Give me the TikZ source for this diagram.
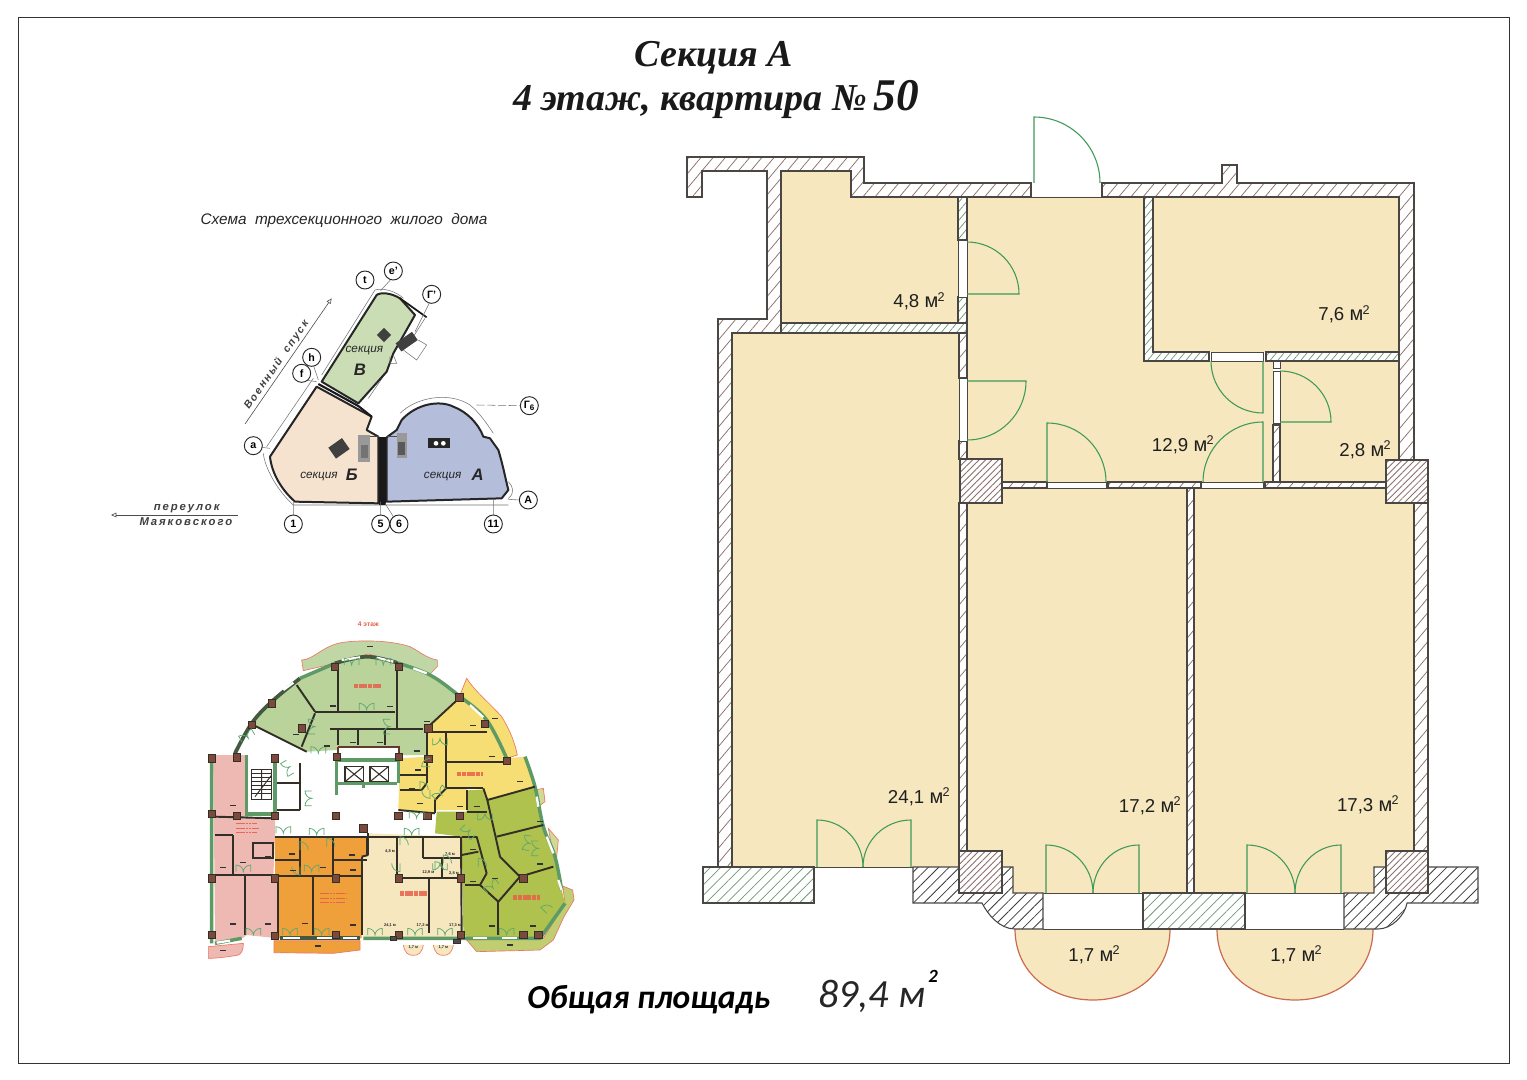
\documentclass[tikz,border=0pt]{standalone}
\usepackage{fontspec}
\setmainfont{Liberation Sans}
\newfontfamily\ttlfam{Liberation Serif}
\newfontfamily\calfam{Carlito}
\usetikzlibrary{patterns.meta,arrows.meta}
\definecolor{floorc}{HTML}{F6E7BF}
\definecolor{wline}{HTML}{4A4644}
\definecolor{hbrown}{HTML}{8B6F68}
\definecolor{hgreen}{HTML}{6E9A72}
\definecolor{hblack}{HTML}{3C3C3C}
\definecolor{doorc}{HTML}{3F9A58}
\definecolor{balc}{HTML}{CC6A50}
\definecolor{colb}{HTML}{7B4A3C}
\definecolor{fpwall}{HTML}{332E26}
\definecolor{fpgreen}{HTML}{5E9A66}
\definecolor{fpdome}{HTML}{B9D39B}
\definecolor{fpyel}{HTML}{F7DE74}
\definecolor{fpoli}{HTML}{B0C24E}
\definecolor{fpcream}{HTML}{F6E7BF}
\definecolor{fporg}{HTML}{F0A03A}
\definecolor{fppink}{HTML}{EEB9B2}
\definecolor{fpred}{HTML}{E8604A}
\tikzset{
 wallb/.style={draw=wline,line width=.8pt,preaction={fill=white},pattern={Lines[angle=50,distance=7pt,line width=.55pt]},pattern color=hbrown},
 wallg/.style={draw=wline,line width=.8pt,preaction={fill=white},pattern={Lines[angle=50,distance=4.4pt,line width=.55pt]},pattern color=hgreen},
 blockg/.style={draw=wline,line width=.8pt,preaction={fill=white},pattern={Lines[angle=45,distance=5.5pt,line width=.55pt]},pattern color=hgreen},
 blockk/.style={draw=wline,line width=.8pt,preaction={fill=white},pattern={Lines[angle=45,distance=5.5pt,line width=.6pt]},pattern color=hblack},
 columnb/.style={draw=wline,line width=.8pt,preaction={fill=white},pattern={Lines[angle=45,distance=3.4pt,line width=.65pt]},pattern color=hbrown},
 gap/.style={draw=wline,line width=.7pt,fill=white},
 doorl/.style={draw=doorc,line width=.8pt},
 balconyl/.style={draw=balc,line width=.9pt},
 arealab/.style={anchor=base east,inner sep=0pt,font=\fontsize{14}{16}\selectfont,text=black!88},
 keysec/.style={draw=black!85,line width=1.5pt,line join=round},
 keyout/.style={draw=black!55,line width=.4pt},
 keycirc/.style={circle,draw=black!85,fill=white,line width=.7pt,minimum size=13.5pt,inner sep=0pt,font=\fontsize{8}{9}\selectfont\bfseries},
 keytxt/.style={inner sep=0pt,font=\fontsize{8.8}{10}\selectfont\itshape,text=black!85},
 keybig/.style={inner sep=0pt,font=\fontsize{12.5}{13}\selectfont\itshape\bfseries,text=black!85},
 keystreet/.style={inner sep=0pt,font=\fontsize{8.5}{10}\selectfont\itshape\bfseries,text=black!75},
 fw/.style={draw=fpwall,line width=1.45pt},
 fwt/.style={draw=fpwall,line width=.8pt},
 fg/.style={draw=fpgreen,line width=2.6pt},
 fdark/.style={draw=fpwall!60!fpgreen,line width=2.8pt},
 fwhite/.style={draw=white,line width=1.7pt},
 fbal/.style={draw=fpred!85,line width=.5pt},
 fcol/.style={fill=colb,draw=fpwall,line width=.3pt},
 fsm/.style={draw=fpwall,line width=.7pt},
 fdr/.style={draw=doorc!85!white,line width=.55pt},
 fred/.style={draw=fpred,line width=3.4pt,opacity=.85,dash pattern=on 3pt off .5pt},
 fblob/.style={draw=fpred,line width=1.1pt,opacity=.9,dash pattern=on 2pt off .4pt},
 ftiny/.style={inner sep=0pt,font=\fontsize{3}{3}\selectfont\bfseries,text=black!85},
 dd/.pic={\draw[fdr] (-22,0) -- (-22,-20) .. controls (-10,-20) and (0,-10) .. (0,0) .. controls (0,-10) and (10,-20) .. (22,-20) -- (22,0);},
 sd/.pic={\draw[fdr] (0,0) -- (0,-25) .. controls (14,-25) and (25,-14) .. (25,0);}
}
\newcommand{\qdoor}[6]{%
 \pgfmathsetmacro\cax{#3+.5523*(#5-#1)}\pgfmathsetmacro\cay{#4+.5523*(#6-#2)}%
 \pgfmathsetmacro\cbx{#5+.5523*(#3-#1)}\pgfmathsetmacro\cby{#6+.5523*(#4-#2)}%
 \draw[doorl] (#1,#2) -- (#3,#4) .. controls (\cax,\cay) and (\cbx,\cby) .. (#5,#6);}
\newcommand{\sqm}{\kern-.03em\raisebox{.36em}{\fontsize{9.5}{10}\selectfont 2}}
\newcommand{\emm}{{\fontsize{15}{16}\selectfont м}}
\begin{document}
\begin{tikzpicture}[x=.75pt,y=-.75pt]
\useasboundingbox (0,0) rectangle (1527,1080);
\fill[white] (0,0) rectangle (1527,1080);
\draw[black!80,line width=.7pt] (18,17) rectangle (1509,1063);
% titles
\node[inner sep=0pt,font=\ttlfam\bfseries\itshape\fontsize{28.5}{30}\selectfont,text=black!90] (title1) at (714,58) {Секция А};
\node[inner sep=0pt,font=\ttlfam\bfseries\itshape\fontsize{28.5}{30}\selectfont,text=black!90] (title2) at (716,99) {4 этаж, квартира №\,{\fontsize{34}{30}\selectfont 50}};
% ---------- floors
\fill[floorc] (781,171) -- (851,171) -- (851,197) -- (958,197) -- (958,323) -- (781,323) -- cycle;
\fill[floorc] (1153,197) rectangle (1399,352);
\fill[floorc] (967,197) -- (1144,197) -- (1144,361) -- (1273,361) -- (1273,482) -- (967,482) -- cycle;
\fill[floorc] (1280,361) rectangle (1399,482);
\fill[floorc] (732,333) rectangle (959,867);
\fill[floorc] (967,488) rectangle (1187,893);
\fill[floorc] (1194,488) rectangle (1414,893);
% balconies
\path[fill=floorc] (1015,929) .. controls (1015,972) and (1050,1000) .. (1093,1000) .. controls (1136,1000) and (1170,972) .. (1170,929) -- cycle;
\path[fill=floorc] (1217,929) .. controls (1217,972) and (1252,1000) .. (1295,1000) .. controls (1338,1000) and (1373,972) .. (1373,929) -- cycle;
\draw[balconyl] (1015,929) .. controls (1015,972) and (1050,1000) .. (1093,1000) .. controls (1136,1000) and (1170,972) .. (1170,929);
\draw[balconyl] (1217,929) .. controls (1217,972) and (1252,1000) .. (1295,1000) .. controls (1338,1000) and (1373,972) .. (1373,929);
% ---------- brown walls
\path[wallb] (687,157) -- (864,157) -- (864,183) -- (1031,183) -- (1031,197) -- (851,197) -- (851,171) -- (781,171) -- (781,333) -- (732,333) -- (732,867) -- (718,867) -- (718,319) -- (767,319) -- (767,171) -- (702,171) -- (702,197) -- (687,197) -- cycle;
\path[wallb] (1102,183) -- (1222,183) -- (1222,165) -- (1237,165) -- (1237,183) -- (1414,183) -- (1414,460) -- (1399,460) -- (1399,197) -- (1102,197) -- cycle;
\path[wallb] (959,333) rectangle (967,378);
\path[wallb] (959,441) rectangle (967,459);
\path[wallb] (1273,425) rectangle (1280,482);
\path[wallb] (1002,482) rectangle (1047,488);
\path[wallb] (1108,482) rectangle (1201,488);
\path[wallb] (1265,482) rectangle (1386,488);
\path[wallb] (1187,488) rectangle (1194,893);
\path[wallb] (959,503) rectangle (967,851);
\path[wallb] (1414,503) rectangle (1428,851);
% green walls
\path[wallg] (958,197) rectangle (967,240);
\path[wallg] (958,297) rectangle (967,323);
\path[wallg] (781,323) rectangle (967,333);
\path[wallg] (1144,197) -- (1153,197) -- (1153,352) -- (1209,352) -- (1209,361) -- (1144,361) -- cycle;
\path[wallg] (1266,352) rectangle (1399,361);
% gaps
\path[gap] (958,240) rectangle (967,297);
\path[gap] (959,378) rectangle (967,441);
\path[gap] (1211,352) rectangle (1263,361);
\path[gap] (1273,371) rectangle (1280,423);
\path[gap] (1273,361) rectangle (1280,368);
\path[gap] (1047,482) rectangle (1106,488);
\path[gap] (1201,482) rectangle (1263,488);
\draw[wline,line width=.7pt] (1031,197) -- (1102,197);
\draw[wline,line width=.7pt] (814,867) -- (913,867);
\draw[wline,line width=.7pt] (1043,893) -- (1143,893) (1043,929) -- (1143,929);
\draw[wline,line width=.7pt] (1245,893) -- (1344,893) (1245,929) -- (1344,929);
% ---------- blocks
\path[blockg] (703,867) rectangle (814,903);
\path[blockg] (1143,893) rectangle (1245,929);
\path[blockk] (913,867) -- (1013,867) -- (1013,893) -- (1043,893) -- (1043,929) -- (1015,929) .. controls (1000,929) and (988,915) .. (982,903) -- (913,903) -- cycle;
\path[blockk] (1344,893) -- (1374,893) -- (1374,867) -- (1478,867) -- (1478,903) -- (1407,903) .. controls (1405,915) and (1392,929) .. (1378,929) -- (1344,929) -- cycle;
\path[columnb] (960,459) rectangle (1002,503);
\path[columnb] (1386,460) rectangle (1428,503);
\path[columnb] (959,851) rectangle (1002,893);
\path[columnb] (1386,851) rectangle (1428,893);
% ---------- doors
\qdoor{1034}{183}{1034}{117}{1100}{183}
\qdoor{967}{294}{1019}{294}{967}{242}
\qdoor{967}{381}{1026}{381}{967}{440}
\qdoor{1263}{361}{1263}{413}{1211}{361}
\qdoor{1263}{482}{1263}{422}{1203}{482}
\qdoor{1280}{422}{1331}{422}{1280}{371}
\qdoor{1047}{482}{1047}{423}{1106}{482}
\qdoor{817}{867}{817}{820}{863}{867}
\qdoor{911}{867}{911}{820}{863}{867}
\qdoor{1046}{893}{1046}{845}{1093}{893}
\qdoor{1139}{893}{1139}{845}{1093}{893}
\qdoor{1247}{893}{1247}{845}{1295}{893}
\qdoor{1341}{893}{1341}{845}{1295}{893}
% ---------- areas
\node[arealab] (a48) at (945,308) {4,8 \emm\sqm};
\node[arealab] (a76) at (1370,321) {7,6 \emm\sqm};
\node[arealab] (a129) at (1214,451) {12,9 \emm\sqm};
\node[arealab] (a28) at (1391,456) {2,8 \emm\sqm};
\node[arealab] (a241) at (950,803) {24,1 \emm\sqm};
\node[arealab] (a172) at (1181,812) {17,2 \emm\sqm};
\node[arealab] (a173) at (1399,811) {17,3 \emm\sqm};
\node[arealab] (a17a) at (1120,961) {1,7 \emm\sqm};
\node[arealab] (a17b) at (1322,961) {1,7 \emm\sqm};
% total
\node[anchor=base west,inner sep=0pt,font=\calfam\bfseries\itshape\fontsize{25.2}{26}\selectfont] (tot1) at (527,1008) {Общая площадь};
\node[anchor=base west,inner sep=0pt,font=\calfam\itshape\fontsize{30}{32}\selectfont,text=black!85] (tot2) at (818,1007) {89,4 м};
\node[inner sep=0pt,font=\calfam\bfseries\itshape\fontsize{14}{16}\selectfont] (tot3) at (933,976) {2};
% ---------- key plan
\node[inner sep=0pt,font=\itshape\fontsize{11.5}{13}\selectfont,text=black!85] (keyt) at (344,221) {Схема\ \ трехсекционного\ \ жилого\ \ дома};
\begin{scope}[shift={(100,200)},x=.25pt,y=-.25pt]
\draw[keyout] (500,740) -- (640,535) (665,525) -- (825,270) .. controls (850,262) and (890,275) .. (910,295);
\draw[keyout] (490,760) .. controls (495,810) and (540,880) .. (580,915) -- (1225,915) (1225,895) .. controls (1245,880) and (1240,860) .. (1225,845);
\draw[keyout] (900,640) .. controls (950,590) and (1050,575) .. (1110,615) .. controls (1140,640) and (1160,670) .. (1180,700);
\draw[keyout,dash pattern=on 6pt off 2pt] (1130,615) -- (1260,617);
\draw[keyout] (805,595) -- (860,515);
\path[keysec,fill={rgb,255:red,180;green,190;blue,219}] (860,905) -- (1205,895) -- (1225,870) .. controls (1215,830) and (1210,800) .. (1195,750) -- (1170,715) -- (1150,710) .. controls (1135,670) and (1100,635) .. (1060,620) .. controls (1020,600) and (950,610) .. (905,660) -- (890,690) -- (860,712) -- cycle;
\path[keysec,fill={rgb,255:red,245;green,227;blue,208}] (835,910) -- (585,905) .. controls (545,870) and (515,820) .. (510,770) -- (650,560) -- (815,650) -- (800,690) -- (835,710) -- cycle;
\path[keysec,fill={rgb,255:red,202;green,221;blue,181}] (665,545) -- (830,285) .. controls (845,275) and (875,280) .. (900,295) -- (945,345) -- (880,460) -- (860,515) -- (775,610) -- cycle;
\draw[black!90,line width=1.6pt] (655,552) -- (775,618) -- (815,650);
\draw[black!90,line width=1.3pt] (900,295) -- (980,352);
\fill[black!90] (838,710) rectangle (858,915);
\draw[keyout] (975,355) -- (940,410) (880,465) -- (890,490) -- (870,490) -- (870,470) (910,450) -- (950,480) -- (980,435) -- (955,420);
\fill[black!75,rotate around={45:(852,405)}] (837,390) rectangle (867,420);
\fill[black!75,rotate around={35:(920,425)}] (890,410) rectangle (950,440);
\fill[black!75,rotate around={35:(717,745)}] (692,725) rectangle (742,765);
\fill[white!60!black] (775,705) rectangle (810,785);
\fill[black!55] (782,735) rectangle (803,775);
\fill[white!60!black] (890,700) rectangle (920,775);
\fill[black!65] (895,725) rectangle (915,765);
\fill[black!85] (985,715) rectangle (1050,745);
\fill[white] (1008,730) circle (7) (1030,730) circle (7);
\draw[black!70,line width=.6pt] (810,710) -- (838,710) (858,710) -- (890,710);
% leaders
\draw[keyout] (880,230) -- (842,272);
\draw[keyout] (990,305) -- (945,395);
\draw[keyout] (612,540) -- (650,545) (640,495) -- (655,540);
\draw[keyout] (485,742) -- (510,745);
\draw[keyout] (1225,898) -- (1260,900);
\draw[keyout] (580,905) -- (580,945) (842,905) -- (842,945) (855,910) -- (880,950) (1180,900) -- (1180,945);
% circles
\node[keycirc] (kt) at (795,240) {t};
\node[keycirc] (ke) at (880,213) {е'};
\node[keycirc] (kg) at (995,283) {Г'};
\node[keycirc] (kh) at (635,472) {h};
\node[keycirc] (kf) at (605,520) {f};
\node[keycirc] (ka) at (460,737) {а};
\node[keycirc] (kg6) at (1288,617) {Г\textsubscript{6}};
\node[keycirc] (kA) at (1285,900) {А};
\node[keycirc] (k1) at (580,972) {1};
\node[keycirc] (k5) at (842,972) {5};
\node[keycirc] (k6) at (897,972) {6};
\node[keycirc] (k11) at (1180,972) {11};
% section labels
\node[keytxt] (sv) at (793,453) {секция};
\node[keybig] (sv2) at (780,510) {В};
\node[keytxt] (sb) at (657,830) {секция};
\node[keybig] (sb2) at (755,825) {Б};
\node[keytxt] (sa) at (1028,830) {секция};
\node[keybig] (sa2) at (1133,825) {А};
% streets
\coordinate (vs0) at (435,672);
\coordinate (vs1) at (695,295);
\draw[black!70,line width=.45pt,-{Triangle[open,length=4pt,width=3.5pt]}] (vs0) -- (vs1);
\node[keystreet,rotate=55.4,font=\fontsize{8}{10}\selectfont\itshape\bfseries] (vsl) at (530,495) {В\,о\,е\,н\,н\,ы\,й\ \ \ с\,п\,у\,с\,к};
\coordinate (pm0) at (413,945);
\coordinate (pm1) at (33,945);
\draw[black!70,line width=.45pt,-{Triangle[open,length=4pt,width=3.5pt]}] (pm0) -- (pm1);
\node[keystreet] (pml1) at (260,927) {п\,е\,р\,е\,у\,л\,о\,к};
\node[keystreet] (pml2) at (258,965) {М\,а\,я\,к\,о\,в\,с\,к\,о\,г\,о};
\end{scope}
% ---------- floor plan
\begin{scope}[shift={(200,610)},x=.25pt,y=-.25pt]
% balconies
\path[fbal,fill=fpdome!90!white] (305,150) .. controls (340,150) and (370,105) .. (430,97) .. controls (480,90) and (570,90) .. (630,110) .. controls (660,125) and (680,145) .. (712,150) -- (712,170) -- (690,192) -- (590,155) -- (505,132) -- (405,160) -- (310,182) -- cycle;
\path[fbal,fill=fpyel] (800,205) .. controls (830,250) and (860,270) .. (905,320) .. controls (930,360) and (945,400) .. (952,435) -- (920,445) -- (860,330) -- (780,255) -- cycle;
\path[fbal,fill=fporg] (222,992) -- (480,992) -- (480,1020) -- (400,1030) -- (222,1028) -- cycle;
\path[fbal,fill=fpoli!80!white] (800,990) -- (1030,985) -- (1095,880) -- (1088,828) -- (1118,840) -- (1122,870) -- (1092,920) -- (1060,990) -- (1020,1020) -- (830,1025) -- cycle;
\path[fbal,fill=fppink] (25,1010) -- (130,1000) .. controls (130,1020) and (125,1030) .. (115,1035) .. controls (90,1040) and (50,1045) .. (25,1045) -- cycle;
\path[fbal,fill=fpcream] (610,1005) .. controls (615,1030) and (625,1036) .. (640,1036) .. controls (655,1036) and (665,1030) .. (670,1005);
\path[fbal,fill=fpcream] (700,1005) .. controls (705,1030) and (715,1036) .. (730,1036) .. controls (745,1036) and (755,1030) .. (760,1005);
\path[fbal,fill=fpoli!60!white] (1005,540) -- (1030,535) -- (1035,575) -- (1015,590) -- cycle;
\path[fbal,fill=fpoli!60!white] (1045,655) -- (1075,690) -- (1070,740) -- (1060,735) -- cycle;
% apartments
\fill[fpdome] plot[smooth,tension=.6] coordinates {(105,430) (155,340) (215,275) (300,205) (405,160) (500,140) (590,158) (690,195) (778,258)} -- (685,350) -- (680,435) -- (600,435) -- (595,410) -- (415,410) -- (410,420) -- (320,425) -- (155,345) -- (115,420) -- cycle;
\fill[fpyel] plot[smooth,tension=.6] coordinates {(778,258) (860,330) (920,445)} -- (975,440) -- (1005,530) -- (860,570) -- (850,540) -- (800,535) -- (800,600) -- (710,600) -- (700,610) -- (595,600) -- (600,445) -- (680,440) -- (680,355) -- cycle;
\fill[fpoli] (860,570) -- (1005,530) -- (1030,650) -- (1065,740) -- (1085,840) -- (1095,880) -- (1025,985) -- (800,985) -- (790,965) -- (785,680) -- (705,670) -- (710,605) -- (800,605) -- (805,540) -- (850,540) -- cycle;
\fill[fpcream] (505,670) -- (785,680) -- (785,985) -- (490,985) -- (485,740) -- (505,735) -- cycle;
\fill[fporg] (225,680) -- (500,680) -- (500,735) -- (485,745) -- (485,985) -- (235,985) -- (235,800) -- (225,795) -- cycle;
\fill[fppink] (40,435) -- (140,435) -- (140,620) -- (225,625) -- (225,680) -- (220,800) -- (235,800) -- (235,985) -- (140,975) -- (120,990) -- (45,1000) -- cycle;
% facades
\draw[fg] (35,440) -- (35,1000) (45,1000) -- (125,985);
\draw[fdark] plot[smooth,tension=.6] coordinates {(105,430) (155,340) (215,275) (300,205)};
\draw[fg] plot[smooth,tension=.6] coordinates {(300,205) (405,160)};
\draw[fdark] plot[smooth,tension=.6] coordinates {(405,160) (500,140) (590,158)};
\draw[fg] plot[smooth,tension=.6] coordinates {(590,158) (690,195) (778,258) (860,330) (920,445)};
\draw[fg] plot[smooth,tension=.6] coordinates {(975,440) (1005,530) (1030,650) (1065,740) (1085,840)};
\draw[fdark] (240,985) -- (480,985);
\draw[fg] (490,985) -- (1020,985) -- (1095,880);
\foreach \a/\b/\c/\d in {250/240/280/218,425/150/480/142,530/143/580/155,640/175/680/190,810/285/850/322,1010/560/1015/590,1040/680/1060/730,1075/810/1085/840,50/998/90/992,250/985/300/985,350/985/400/985,430/985/470/985,625/998/665/998,710/998/750/998,820/985/860/985,905/985/950/985}
  \draw[fwhite] (\a,\b) -- (\c,\d);
% walls
\foreach \a/\b/\c/\d in {290/225/345/305,345/305/585/305,415/165/415/305,590/155/590/355,390/358/670/358,415/360/415/405,475/360/475/405,555/360/555/405,160/345/320/425,780/262/685/350,680/350/680/440,345/310/305/410,
 680/365/738/365,738/365/738/535,738/365/860/365,740/455/920/455,738/535/850/535,850/535/862/570,600/495/680/495,600/540/665/540,665/540/680/520,680/520/680/440,738/535/705/570,705/570/705/610,595/600/705/610,
 862/570/1005/530,890/680/1030/645,800/540/800/600,800/605/860/605,862/570/900/740,900/740/960/800,960/800/895/875,895/875/840/825,840/825/860/790,860/790/830/680,830/680/785/680,785/735/835/725,895/875/895/975,840/825/795/825,960/800/1060/770,
 505/670/505/735,505/735/485/740,485/740/485/975,505/680/780/680,590/680/590/800,670/680/670/745,670/745/780/745,595/805/785/805,725/745/725/805,783/680/785/980,688/805/688/970,
 225/680/500/680,300/680/300/800,400/680/400/800,225/750/300/750,400/750/500/750,235/798/485/798,338/800/338/975,235/800/235/975,500/680/500/735,
 45/620/225/625,45/675/100/675,100/675/100/795,45/795/230/795,135/795/135/975,
 300/460/300/600,232/520/300/520,232/600/300/600}
  \draw[fw] (\a,\b) -- (\c,\d);
\draw[fw] (160,700) -- (220,700) -- (220,745) -- (160,745) -- cycle;
% section core
\draw[fg] (140,435) -- (140,620) (225,445) -- (225,620) (140,612) -- (225,612);
\draw[fg] (410,450) -- (410,555) (595,450) -- (595,520) (410,450) -- (595,450) (410,520) -- (590,520) (490,520) -- (490,535);
\draw[fw,draw=colb!80!black] (415,410) -- (600,410) (415,430) -- (415,410) (598,410) -- (598,430);
\path[fwt,fill=white] (435,470) rectangle (490,515) (510,470) rectangle (565,515);
\draw[fwt] (435,470) -- (490,515) (435,515) -- (490,470) (510,470) -- (565,515) (510,515) -- (565,470);
% stairs
\draw[fsm] (155,478) rectangle (215,568);
\foreach \y in {490,502,514,526,538,550} \draw[fsm,line width=.4pt] (155,\y) -- (215,\y);
\draw[fsm] (185,478) -- (185,568) (165,560) -- (215,495);
% columns
\foreach \x/\y in {110/442,225/445,35/445,35/612,110/617,225/617,35/805,225/805,35/975,155/345,215/280,405/170,597/170,778/262,685/355,305/355,410/440,597/440,685/447,920/452,855/342,408/618,595/618,408/805,597/805,783/805,597/975,783/975,408/975,970/805,970/975,1015/975,225/978,780/617,682/617,490/655}
  \path[fcol] (\x-11,\y-11) rectangle (\x+11,\y+11);
\path[fcol,fill=black!70] (570,978) rectangle (590,992) (760,988) rectangle (780,1000);
% doors
\foreach \x/\y/\r in {500/300/0,455/165/0,550/165/0,160/975/0,270/975/0,365/975/0,525/975/0,645/975/0,735/975/0,920/975/0,130/785/0,335/785/0,880/835/40,990/700/80,1015/715/90,
 145/385/30,345/350/90,355/430/0,270/470/120,335/565/90,250/670/0,350/675/0,635/675/0,650/625/0,725/555/45,720/385/180,570/350/90,720/760/180,810/660/135,855/610/180}
  \pic[rotate=\r] at (\x,\y) {dd};
\foreach \x/\y/\r in {300/720/0,300/770/180,380/710/0,600/705/0,600/760/180,705/780/0,730/760/0,690/470/90,690/540/180,835/770/0,660/540/0,1040/910/45}
  \pic[rotate=\r] at (\x,\y) {sd};
% labels
\node[inner sep=0pt,font=\fontsize{5}{5}\selectfont\bfseries,text=fpred] (fp4) at (505,42) {4 этаж};
\foreach \x/\y in {400/288,570/290,680/335,288/373,380/408,460/397,540/397,650/423,820/347,875/440,655/480,635/535,660/580,780/590,830/590,960/515,885/325,510/110,1020/635,1020/762,820/718,820/815,885/805,875/948,1000/948,930/1005,275/732,280/782,455/735,460/780,370/772,315/940,460/945,100/587,70/772,130/757,205/740,100/942,205/942,70/1022,355/1008}
  \draw[black!80,line width=.8pt] (\x-9,\y) -- (\x+9,\y);
\node[ftiny] (f1) at (570,945) {24,1 м};
\node[ftiny] (f2) at (668,947) {17,2 м};
\node[ftiny] (f3) at (765,947) {17,3 м};
\node[ftiny] (f4) at (640,1012) {1,7 м};
\node[ftiny] (f5) at (730,1012) {1,7 м};
\node[ftiny] (f6) at (570,725) {4,8 м};
\node[ftiny] (f7) at (750,732) {7,6 м};
\node[ftiny] (f8) at (685,788) {12,9 м};
\node[ftiny] (f9) at (762,790) {2,8 м};
% red blobs
\draw[fred] (462,228) -- (542,228);
\draw[fred] (772,492) -- (848,492);
\draw[fred] (600,850) -- (680,850);
\draw[fred] (940,862) -- (1020,862);
\draw[fblob] (108,640) -- (172,640) (108,655) -- (178,655) (108,668) -- (172,668);
\draw[fblob] (360,850) -- (440,850) (360,865) -- (440,865) (360,878) -- (435,878);
\end{scope}
\end{tikzpicture}
\end{document}
